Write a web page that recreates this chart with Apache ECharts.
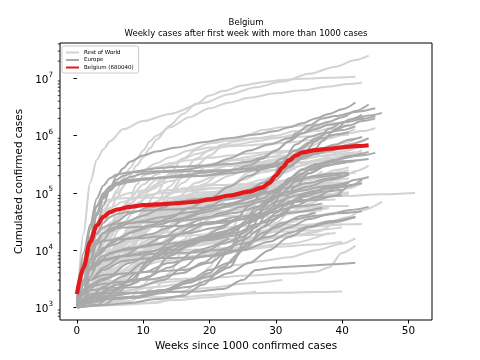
<!DOCTYPE html>
<html><head><meta charset="utf-8">
<script src="https://cdn.jsdelivr.net/npm/echarts@6/dist/echarts.min.js"></script>
<style>html,body{margin:0;padding:0;background:#fff}#c{width:480px;height:360px}</style>
</head><body><div id="c"></div>
<script>
// ---------------- DATA ----------------
const weekTicks = [0, 10, 20, 30, 40, 50];
const yTicks = [1e3, 1e4, 1e5, 1e6, 1e7];
const titleText = 'Belgium';
const subtitleText = 'Weekly cases after first week with more than 1000 cases';
const xLabel = 'Weeks since 1000 confirmed cases';
const yLabel = 'Cumulated confirmed cases';
const legendNames = ['Rest of World', 'Europe', 'Belgium (680040)'];

// Belgium: [week, cumulated cases]
const belgium = [[0,1700],[1,5000],[2,14000],[3,27000],[4,38000],[5,46000],[6,51000],[8,57000],[10,61000],[12,63000],[15,66000],[18,70000],[20,77000],[23,90000],[26,105000],[28,125000],[29,150000],[30,200000],[31,280000],[32,370000],[33,450000],[34,510000],[36,560000],[38,590000],[40,625000],[42,655000],[44,680040]];

// Rest of World countries: [name, [[week, cases], ...]]
const restOfWorld = [
 ['USA', [[0,1000],[1,20000],[2,150000],[3,380000],[4,580000],[5,800000],[7,1300000],[10,1800000],[14,2400000],[19,3700000],[23,5300000],[27,7000000],[31,8800000],[35,12000000],[39,16000000],[42,21000000],[44,25000000]]],
 ['India', [[0,1000],[1,3000],[2,8000],[3,15000],[4,30000],[5,50000],[6,80000],[7,130000],[8,200000],[9,300000],[10,420000],[11,600000],[12,850000],[14,1500000],[16,2400000],[18,3600000],[20,5000000],[22,6000000],[25,7500000],[28,8600000],[31,9400000],[34,9900000],[38,10300000],[42,10700000]]],
 ['Brazil', [[0,1000],[1,3000],[2,8000],[3,20000],[4,40000],[5,70000],[6,110000],[7,180000],[8,270000],[9,390000],[10,550000],[11,800000],[12,1000000],[14,1400000],[17,2100000],[20,3000000],[23,3800000],[26,4600000],[30,5500000],[34,6200000],[38,7200000],[41,8000000],[43,8500000]]],
 ['China', [[0,1300],[1,6000],[2,24000],[3,45000],[4,67000],[5,77000],[6,80000],[8,81500],[12,82500],[20,83500],[30,85000],[40,88000],[46,95000],[51,100000]]],
 ['South Korea', [[0,1700],[1,6000],[2,8000],[3,8600],[5,10000],[8,10700],[12,11200],[16,12400],[20,13700],[24,16000],[26,20000],[30,24000],[34,27000],[38,31000],[41,38000],[43,50000],[46,70000]]],
 ['Iran', [[0,1500],[1,7000],[2,16000],[3,30000],[4,50000],[5,70000],[6,85000],[8,100000],[11,115000],[14,160000],[17,200000],[20,250000],[23,300000],[26,360000],[29,420000],[32,530000],[35,650000],[38,900000],[41,1100000],[43,1200000],[45,1350000]]],
 ['Japan', [[0,1000],[2,1500],[3,2000],[4,3000],[5,7000],[6,11000],[8,14000],[11,16500],[15,18000],[18,22000],[20,35000],[22,55000],[25,70000],[28,80000],[31,90000],[34,110000],[37,140000],[40,190000],[42,240000],[44,300000]]],
 ['Canada', [[0,1300],[1,6000],[2,14000],[3,25000],[4,40000],[5,55000],[7,70000],[10,90000],[13,100000],[17,107000],[21,120000],[25,140000],[28,170000],[31,220000],[34,300000],[37,400000],[40,530000],[43,680000]]],
 ['Australia', [[0,1000],[1,3000],[2,5500],[3,6300],[5,6700],[8,7000],[12,7300],[15,8500],[17,12000],[19,18000],[21,23000],[24,26000],[28,27000],[35,27900],[43,28700]]],
 ['Israel', [[0,1000],[1,4700],[2,9000],[3,12000],[4,15000],[7,16400],[10,17500],[13,20000],[15,30000],[17,55000],[20,90000],[23,130000],[26,230000],[28,300000],[31,320000],[35,340000],[38,380000],[41,460000],[43,560000]]],
 ['Mexico', [[0,1100],[1,2500],[2,5000],[3,9000],[4,16000],[5,27000],[6,42000],[8,80000],[10,140000],[12,210000],[14,300000],[16,390000],[18,480000],[21,600000],[24,700000],[27,800000],[30,900000],[33,1050000],[36,1200000],[39,1400000],[41,1570000]]],
 ['Peru', [[0,1100],[1,4000],[2,11000],[3,25000],[4,45000],[5,70000],[6,100000],[8,170000],[10,250000],[12,330000],[14,420000],[17,550000],[20,730000],[23,820000],[26,880000],[29,920000],[33,960000],[37,1000000],[41,1040000]]],
 ['Chile', [[0,1300],[1,4000],[2,7000],[3,10000],[5,16000],[6,25000],[7,45000],[8,80000],[9,140000],[10,200000],[12,280000],[14,330000],[17,370000],[20,410000],[23,450000],[26,490000],[30,530000],[34,560000],[38,600000],[42,650000]]],
 ['Colombia', [[0,1100],[1,2500],[2,4000],[4,7000],[6,12000],[8,20000],[10,40000],[12,70000],[14,130000],[16,230000],[18,400000],[20,550000],[22,700000],[24,800000],[27,900000],[30,1000000],[33,1200000],[36,1400000],[39,1650000],[41,1850000]]],
 ['Argentina', [[0,1100],[2,2000],[4,3500],[6,6000],[8,10000],[10,20000],[12,50000],[14,100000],[16,190000],[18,300000],[20,450000],[22,650000],[24,850000],[26,1050000],[28,1250000],[31,1400000],[34,1500000],[37,1600000],[41,1750000]]],
 ['South Africa', [[0,1200],[1,1700],[2,2400],[4,4500],[6,10000],[8,23000],[10,50000],[12,100000],[14,220000],[16,400000],[18,560000],[20,620000],[23,650000],[26,680000],[29,720000],[32,760000],[35,830000],[38,950000],[40,1100000],[42,1300000]]],
 ['Saudi Arabia', [[0,1100],[1,2000],[2,4000],[3,7000],[4,13000],[6,30000],[8,65000],[10,100000],[12,140000],[14,200000],[17,270000],[20,300000],[23,320000],[27,335000],[32,345000],[37,357000],[42,365000]]],
 ['Pakistan', [[0,1100],[1,2500],[2,4500],[3,7000],[5,14000],[7,30000],[9,55000],[11,110000],[13,180000],[15,240000],[17,265000],[20,285000],[24,300000],[28,320000],[31,340000],[34,390000],[37,440000],[40,490000],[42,520000]]],
 ['Bangladesh', [[0,1000],[1,3000],[2,6000],[4,16000],[6,35000],[8,65000],[10,110000],[12,170000],[15,230000],[18,280000],[21,330000],[24,370000],[27,400000],[30,430000],[33,470000],[36,500000],[40,525000]]],
 ['Indonesia', [[0,1100],[1,2000],[2,3500],[3,5500],[5,9000],[7,13000],[9,20000],[11,30000],[13,45000],[15,66000],[17,95000],[20,140000],[23,200000],[26,280000],[29,370000],[32,440000],[35,510000],[38,620000],[40,740000],[42,860000]]],
 ['Philippines', [[0,1100],[1,3000],[2,4600],[4,8000],[7,12000],[10,20000],[13,35000],[16,70000],[19,140000],[22,230000],[25,300000],[28,350000],[31,385000],[35,420000],[38,460000],[42,490000]]],
 ['Malaysia', [[0,1300],[1,2800],[2,4100],[4,5500],[7,6500],[11,7800],[16,8700],[22,9300],[26,12000],[28,18000],[30,30000],[32,45000],[35,65000],[38,90000],[41,120000],[43,150000]]],
 ['Singapore', [[0,1000],[1,2500],[2,6600],[3,12000],[4,17000],[6,26000],[8,33000],[10,39000],[12,44000],[14,48000],[17,53000],[20,56000],[25,57500],[30,58000],[41,59000]]],
 ['Egypt', [[0,1100],[2,2500],[4,4500],[6,8000],[8,15000],[10,30000],[12,55000],[14,70000],[17,85000],[20,95000],[24,100000],[28,105000],[32,110000],[35,120000],[38,140000],[41,160000]]],
 ['Morocco', [[0,1100],[2,2500],[4,4000],[6,6500],[9,8000],[12,12000],[15,20000],[18,35000],[21,60000],[24,100000],[27,140000],[30,200000],[33,290000],[36,370000],[39,420000],[41,450000]]],
 ['Algeria', [[0,1300],[2,2200],[4,3500],[6,5000],[9,8000],[12,12000],[15,20000],[17,30000],[19,40000],[22,48000],[25,52000],[28,56000],[31,65000],[34,85000],[37,95000],[41,103000]]],
 ['Iraq', [[0,1100],[2,1700],[4,2500],[6,4000],[8,10000],[10,25000],[12,50000],[14,95000],[16,150000],[18,230000],[20,310000],[23,370000],[26,430000],[29,490000],[32,540000],[36,580000],[40,605000]]],
 ['Qatar', [[0,1100],[1,2500],[2,5000],[3,10000],[5,30000],[7,45000],[9,65000],[11,90000],[13,110000],[15,115000],[20,120000],[25,125000],[30,135000],[35,140000],[41,148000]]],
 ['UAE', [[0,1100],[1,3000],[2,7000],[4,14000],[6,22000],[8,33000],[10,42000],[13,50000],[17,56000],[20,66000],[23,85000],[26,110000],[29,140000],[32,165000],[35,190000],[38,220000],[41,250000]]],
 ['Kuwait', [[0,1000],[2,2500],[4,5500],[6,12000],[8,27000],[10,35000],[13,50000],[16,65000],[20,80000],[24,100000],[28,125000],[32,140000],[36,148000],[40,154000]]],
 ['Ecuador', [[0,1100],[1,3000],[2,4000],[3,7500],[4,23000],[6,29000],[8,33000],[10,40000],[14,55000],[18,80000],[22,105000],[26,130000],[30,160000],[34,185000],[38,205000],[42,225000]]],
 ['Dominican Republic', [[0,1100],[1,2000],[2,4000],[4,7000],[6,12000],[8,17000],[11,25000],[14,40000],[17,60000],[20,85000],[23,100000],[27,115000],[31,130000],[35,145000],[38,165000],[41,180000]]],
 ['Panama', [[0,1200],[1,2500],[2,4000],[4,6500],[6,9500],[8,14000],[11,25000],[14,50000],[17,80000],[20,100000],[23,115000],[27,130000],[31,150000],[34,170000],[37,210000],[39,250000],[41,280000]]],
 ['Bolivia', [[0,1100],[2,2500],[4,6000],[6,12000],[8,25000],[10,45000],[12,70000],[14,95000],[16,120000],[18,130000],[21,137000],[25,142000],[29,147000],[33,160000],[37,185000]]],
 ['Guatemala', [[0,1000],[2,2000],[4,4500],[6,10000],[8,20000],[10,40000],[12,60000],[15,75000],[18,90000],[21,100000],[25,110000],[29,120000],[33,130000],[37,150000]]],
 ['Honduras', [[0,1000],[2,1800],[4,2600],[6,4500],[8,9000],[10,20000],[13,38000],[16,55000],[19,68000],[23,80000],[27,95000],[31,105000],[35,120000],[38,130000]]],
 ['Costa Rica', [[0,1000],[3,1800],[6,4000],[8,10000],[10,20000],[12,35000],[15,60000],[18,85000],[21,105000],[25,130000],[29,150000],[33,170000],[36,180000]]],
 ['Kazakhstan', [[0,1100],[2,2500],[4,4500],[6,8000],[8,12000],[10,18000],[12,40000],[14,80000],[16,90000],[19,103000],[23,107000],[27,112000],[31,130000],[35,170000],[38,200000],[40,220000]]],
 ['Uzbekistan', [[0,1000],[3,2000],[6,3000],[9,5000],[11,10000],[13,20000],[15,35000],[17,45000],[20,55000],[24,62000],[28,68000],[32,72000],[36,75000],[39,77000]]],
 ['Nigeria', [[0,1100],[2,2500],[4,4500],[6,9000],[8,15000],[10,25000],[12,35000],[14,45000],[17,53000],[20,57000],[24,62000],[28,68000],[31,75000],[34,90000],[38,110000]]],
 ['Ghana', [[0,1000],[2,2500],[4,6000],[6,10000],[8,20000],[10,30000],[12,40000],[15,45000],[20,47000],[25,50000],[30,53000],[34,55000],[38,57000]]],
 ['Kenya', [[0,1000],[3,2500],[6,6000],[8,12000],[10,25000],[12,35000],[15,40000],[18,50000],[21,70000],[24,80000],[28,92000],[31,96000],[35,99000]]],
 ['Ethiopia', [[0,1000],[3,2500],[6,6000],[8,10000],[10,20000],[12,40000],[15,60000],[18,80000],[21,95000],[25,105000],[29,115000],[34,130000]]],
 ['Cameroon', [[0,1000],[2,2000],[4,4000],[6,7000],[8,10000],[10,13000],[13,17000],[17,18000],[22,20000],[27,21000],[32,24000],[36,26000],[40,28000]]],
 ['Cuba', [[0,1000],[2,1400],[4,1800],[8,2000],[12,2300],[16,2600],[20,3800],[24,5500],[28,6500],[32,7500],[36,10000],[40,13000],[42,16000]]],
 ['New Zealand', [[0,1000],[2,1300],[4,1450],[8,1500],[16,1520],[20,1650],[24,1750],[30,1800],[36,1850],[40,1900]]],
 ['Thailand', [[0,1000],[1,1600],[2,2200],[3,2700],[5,2900],[8,3000],[14,3100],[20,3300],[26,3600],[32,3900],[36,4200],[38,5000],[40,9000],[42,12000]]],
 ['Sri Lanka', [[0,1000],[4,1600],[8,2000],[12,2700],[16,2900],[20,3300],[22,5000],[24,8000],[26,15000],[29,20000],[32,30000],[36,50000]]],
 ['Vietnam', [[0,1000],[5,1100],[10,1200],[15,1350],[20,1500],[24,1700],[27,1900]]],
 ['Uruguay', [[0,1000],[5,1300],[10,1600],[15,1900],[20,2200],[25,2600],[31,3000]]],
 ['Lebanon', [[0,1000],[4,1100],[8,1500],[10,2500],[12,4500],[14,8000],[16,15000],[18,25000],[20,35000],[23,50000],[26,80000],[29,110000],[32,140000],[35,180000],[37,240000]]],
 ['Jordan', [[0,1000],[4,1200],[8,1300],[12,2300],[14,4000],[16,10000],[18,25000],[20,60000],[22,110000],[25,170000],[28,230000],[32,300000]]],
 ['Nepal', [[0,1000],[2,3000],[4,8000],[6,16000],[8,21000],[10,30000],[12,45000],[15,80000],[18,150000],[21,200000],[25,240000],[29,255000],[33,265000]]],
 ['Oman', [[0,1000],[2,2000],[4,3500],[6,8000],[8,17000],[10,35000],[12,55000],[14,70000],[17,85000],[20,100000],[24,110000],[28,120000],[33,126000],[39,131000]]],
 ['Venezuela', [[0,1000],[3,2500],[6,5000],[8,10000],[10,20000],[12,35000],[15,55000],[18,75000],[21,90000],[25,100000],[29,108000],[34,117000]]],
 ['Afghanistan', [[0,1000],[2,2500],[4,5000],[6,10000],[8,20000],[10,32000],[12,37000],[16,38000],[20,39000],[24,40000],[28,44000],[32,48000],[38,54000]]],
 ['Tunisia', [[0,1000],[6,1100],[12,1200],[15,1500],[18,2500],[20,5000],[22,15000],[25,40000],[28,80000],[31,110000],[34,130000],[38,170000]]],
 ['Paraguay', [[0,1000],[3,1500],[6,2500],[8,4000],[10,9000],[13,20000],[16,40000],[19,60000],[22,75000],[26,90000],[32,115000]]],
 ['Senegal', [[0,1000],[3,2500],[6,4000],[9,6000],[12,8000],[15,10000],[18,12000],[22,14000],[26,15500],[30,16500],[34,19000],[37,22000]]],
 ['Ivory Coast', [[0,1000],[3,1700],[6,3000],[9,5500],[12,10000],[15,14000],[18,16000],[22,18000],[26,20000],[30,21000],[35,22000],[40,25000]]],
 ['Zambia', [[0,1000],[4,2000],[8,4000],[12,8000],[16,13000],[20,15000],[24,16000],[30,17500],[36,18500],[39,20000]]],
 ['Sudan', [[0,1000],[3,4000],[6,7500],[9,9500],[12,11000],[16,12500],[20,13500],[26,14000],[32,18000],[38,25000]]],
 ['DR Congo', [[0,1000],[3,2500],[6,5000],[9,7500],[12,9000],[16,10000],[20,10500],[26,11500],[32,13000],[38,20000]]],
 ['Kyrgyzstan', [[0,1000],[3,1500],[6,2000],[8,3700],[10,8000],[12,20000],[14,35000],[17,42000],[22,47000],[27,55000],[32,72000],[37,80000]]],
 ['El Salvador', [[0,1000],[2,1600],[4,2600],[6,4500],[8,8000],[10,14000],[13,20000],[17,26000],[21,30000],[25,34000],[30,40000],[35,48000],[37,50000]]],
 ['Bahrain', [[0,1000],[2,1700],[4,2900],[6,5000],[8,9000],[10,14000],[12,19000],[15,30000],[18,38000],[21,45000],[25,58000],[29,75000],[33,83000],[37,90000],[41,96000]]],
 ['Guinea', [[0,1000],[3,2000],[6,4000],[9,5000],[13,6500],[18,8000],[24,10000],[30,11500],[36,12500],[40,14000]]]
];

// European countries: [name, [[week, cases], ...]]
const europe = [
 ['Italy', [[0,1100],[1,4600],[2,15000],[3,41000],[4,80000],[5,110000],[6,140000],[7,170000],[8,190000],[10,215000],[13,232000],[17,240000],[22,248000],[26,262000],[29,290000],[32,340000],[34,450000],[36,800000],[38,1300000],[40,1700000],[42,2000000],[44,2250000],[46,2500000]]],
 ['Spain', [[0,1200],[1,6000],[2,28000],[3,80000],[4,135000],[5,180000],[6,210000],[8,230000],[12,240000],[16,250000],[20,300000],[23,400000],[26,550000],[29,700000],[32,900000],[34,1100000],[36,1300000],[38,1550000],[41,1750000],[43,1950000],[45,2200000]]],
 ['Germany', [[0,1100],[1,5000],[2,23000],[3,60000],[4,100000],[5,130000],[6,150000],[8,165000],[11,180000],[15,190000],[19,200000],[23,220000],[27,250000],[30,290000],[32,400000],[34,600000],[36,900000],[38,1150000],[41,1500000],[43,1800000],[45,2000000]]],
 ['France', [[0,1100],[1,4500],[2,15000],[3,45000],[4,90000],[5,125000],[6,150000],[8,170000],[11,180000],[15,190000],[19,200000],[23,240000],[26,300000],[28,400000],[30,550000],[32,800000],[33,1100000],[35,1500000],[37,2000000],[39,2200000],[42,2600000],[45,3000000]]],
 ['United Kingdom', [[0,1100],[1,5000],[2,17000],[3,40000],[4,85000],[5,130000],[6,170000],[7,200000],[9,240000],[12,270000],[15,285000],[19,300000],[23,320000],[26,350000],[28,420000],[30,550000],[32,800000],[34,1100000],[36,1500000],[38,1750000],[40,2100000],[42,2700000],[44,3500000]]],
 ['Russia', [[0,1300],[1,4000],[2,10000],[3,28000],[4,60000],[5,120000],[6,200000],[7,270000],[8,350000],[10,450000],[12,530000],[15,620000],[19,770000],[23,900000],[27,1050000],[30,1200000],[32,1400000],[34,1650000],[36,2000000],[38,2400000],[40,2900000],[42,3800000]]],
 ['Turkey', [[0,1200],[1,9000],[2,27000],[3,57000],[4,95000],[5,120000],[6,138000],[8,155000],[10,170000],[13,185000],[16,205000],[19,225000],[22,245000],[25,265000],[28,300000],[31,340000],[33,390000],[35,470000],[36,600000],[37,800000],[39,1300000],[41,1900000],[43,2300000]]],
 ['Netherlands', [[0,1100],[1,4000],[2,10000],[3,19000],[4,30000],[5,38000],[6,43000],[8,47000],[11,50000],[15,52000],[19,55000],[23,65000],[26,80000],[28,110000],[30,170000],[32,280000],[34,400000],[36,480000],[38,540000],[41,700000],[44,900000]]],
 ['Sweden', [[0,1000],[1,2000],[2,4500],[3,9000],[4,15000],[5,21000],[7,30000],[10,40000],[13,55000],[15,70000],[18,78000],[22,85000],[26,92000],[29,105000],[31,130000],[33,180000],[35,250000],[38,340000],[41,440000],[44,520000]]],
 ['Switzerland', [[0,1100],[1,4000],[2,12000],[3,20000],[4,25000],[5,28000],[7,30000],[11,31000],[16,33000],[20,38000],[24,45000],[28,60000],[30,100000],[32,180000],[34,260000],[36,320000],[39,380000],[42,440000],[45,500000]]],
 ['Portugal', [[0,1000],[1,4000],[2,9000],[3,15000],[4,20000],[6,26000],[9,31000],[13,38000],[17,46000],[21,54000],[25,65000],[28,80000],[30,110000],[32,160000],[34,220000],[36,290000],[38,350000],[40,400000],[43,500000]]],
 ['Austria', [[0,1000],[1,5000],[2,10000],[3,13000],[4,14500],[6,15400],[9,16300],[13,17500],[17,20000],[21,25000],[25,35000],[28,55000],[30,90000],[32,170000],[34,250000],[36,310000],[39,350000],[44,390000]]],
 ['Poland', [[0,1000],[1,2500],[2,5000],[3,8000],[4,11000],[6,16000],[9,22000],[12,28000],[16,36000],[20,48000],[24,68000],[27,95000],[29,150000],[31,350000],[33,700000],[35,950000],[37,1100000],[40,1250000],[42,1450000]]],
 ['Ukraine', [[0,1100],[1,2500],[2,5000],[3,8000],[5,13000],[8,20000],[11,27000],[14,36000],[17,55000],[20,80000],[23,130000],[26,200000],[29,300000],[31,400000],[33,550000],[35,750000],[37,900000],[39,1050000],[41,1150000]]],
 ['Romania', [[0,1000],[1,2500],[2,5000],[3,8000],[5,12000],[8,16000],[11,19000],[14,25000],[17,40000],[20,60000],[23,85000],[26,115000],[28,150000],[30,200000],[32,300000],[34,400000],[36,500000],[39,600000],[42,660000]]],
 ['Czechia', [[0,1000],[1,2500],[2,4500],[4,7000],[7,8000],[11,9500],[15,12000],[19,17000],[22,25000],[24,35000],[26,60000],[28,100000],[30,200000],[32,350000],[34,480000],[36,550000],[39,700000],[41,850000],[43,950000]]],
 ['Ireland', [[0,1100],[1,3000],[2,6000],[3,13000],[4,20000],[5,23000],[7,25000],[11,26000],[15,26500],[19,28000],[22,30000],[25,35000],[28,45000],[30,60000],[33,70000],[36,75000],[39,90000],[41,130000],[43,170000]]],
 ['Denmark', [[0,1100],[1,2000],[2,3400],[3,5400],[5,9000],[8,11000],[12,12500],[16,13500],[20,16000],[24,20000],[27,28000],[30,40000],[33,60000],[36,85000],[39,120000],[42,170000],[44,190000]]],
 ['Norway', [[0,1100],[1,3000],[2,5000],[4,6600],[7,7800],[11,8600],[16,9000],[21,10000],[25,13000],[29,17000],[32,25000],[35,35000],[38,42000],[41,50000],[44,57000]]],
 ['Finland', [[0,1000],[1,2000],[2,3000],[4,4500],[7,6500],[11,7200],[16,7400],[21,8000],[25,10000],[29,14000],[32,20000],[35,26000],[38,32000],[42,38000]]],
 ['Greece', [[0,1000],[1,1700],[2,2300],[4,2600],[7,2800],[11,3100],[16,4000],[19,6000],[22,10000],[25,15000],[28,25000],[31,40000],[33,70000],[35,100000],[38,125000],[43,148000]]],
 ['Hungary', [[0,1000],[1,1800],[2,2500],[4,3200],[7,3900],[11,4200],[16,4500],[20,6000],[23,10000],[25,20000],[27,40000],[29,70000],[31,100000],[33,160000],[35,220000],[38,310000],[41,350000]]],
 ['Serbia', [[0,1100],[1,2500],[2,5000],[4,8000],[7,10000],[10,11500],[13,13500],[15,18000],[17,25000],[19,30000],[22,32000],[26,36000],[29,45000],[31,70000],[33,130000],[35,220000],[37,290000],[40,340000],[42,360000]]],
 ['Croatia', [[0,1000],[1,1700],[2,2000],[5,2200],[9,2250],[13,3000],[16,5000],[19,9000],[22,13000],[25,17000],[27,25000],[29,50000],[31,100000],[33,160000],[36,200000],[38,215000],[41,225000]]],
 ['Bulgaria', [[0,1000],[2,1500],[4,2300],[7,3500],[10,6000],[13,10000],[16,14000],[19,17000],[22,21000],[25,28000],[27,40000],[29,80000],[31,140000],[33,170000],[36,190000],[40,210000]]],
 ['Slovakia', [[0,1000],[2,1300],[5,1450],[9,1550],[13,2000],[17,2700],[20,4000],[23,10000],[25,30000],[27,55000],[29,80000],[32,105000],[35,130000],[38,170000],[41,210000]]],
 ['Slovenia', [[0,1000],[2,1200],[5,1400],[9,1470],[13,1800],[17,2800],[20,3500],[23,5000],[26,20000],[28,50000],[30,70000],[33,90000],[36,110000],[39,125000],[42,140000]]],
 ['Belarus', [[0,1000],[1,2900],[2,7000],[3,14000],[4,20000],[6,32000],[8,44000],[11,56000],[14,64000],[18,70000],[22,76000],[26,85000],[29,100000],[32,125000],[35,150000],[38,180000],[41,210000]]],
 ['Moldova', [[0,1000],[1,2000],[2,3000],[4,5000],[7,8000],[10,12000],[13,17000],[16,26000],[19,35000],[22,45000],[25,58000],[28,72000],[31,90000],[34,110000],[37,130000],[41,150000]]],
 ['Bosnia and Herzegovina', [[0,1100],[2,1500],[5,2000],[8,2500],[11,3500],[14,8000],[17,12000],[20,17000],[23,22000],[26,30000],[28,40000],[31,60000],[34,85000],[37,105000],[40,115000]]],
 ['North Macedonia', [[0,1100],[2,1400],[5,1800],[8,3000],[11,6500],[14,10000],[17,13000],[20,16000],[23,20000],[26,30000],[28,40000],[31,60000],[34,75000],[37,85000],[40,90000]]],
 ['Albania', [[0,1000],[3,1100],[6,2000],[9,4000],[12,7000],[15,10000],[18,14000],[21,18000],[24,25000],[27,35000],[30,48000],[33,58000],[37,65000]]],
 ['Lithuania', [[0,1000],[2,1400],[5,1600],[9,1800],[13,2000],[17,3000],[20,4500],[23,6000],[26,13000],[28,25000],[30,45000],[32,70000],[35,100000],[38,130000],[41,150000]]],
 ['Latvia', [[0,1000],[4,1100],[8,1200],[12,1400],[16,1600],[19,2500],[22,5000],[25,10000],[28,20000],[31,30000],[34,40000],[36,45000]]],
 ['Estonia', [[0,1000],[2,1300],[5,1600],[9,1800],[13,2000],[17,2300],[20,3000],[23,4000],[26,6000],[29,10000],[32,17000],[35,25000],[38,30000],[42,38000]]],
 ['Luxembourg', [[0,1100],[1,2000],[2,3000],[4,3700],[7,3900],[10,4100],[14,6000],[17,7000],[20,8000],[24,10000],[27,15000],[30,25000],[33,35000],[36,40000],[39,44000],[43,48000]]],
 ['Iceland', [[0,1000],[1,1400],[2,1700],[4,1800],[10,1810],[18,1900],[22,2100],[25,3000],[27,4500],[30,5000],[34,5300],[38,5600],[42,6000]]],
 ['Malta', [[0,1000],[3,1700],[6,2500],[10,3200],[14,5000],[18,10000],[23,16000]]],
 ['Montenegro', [[0,1000],[4,3000],[8,6000],[12,10000],[16,20000],[20,30000],[24,38000],[28,45000]]],
 ['Kosovo', [[0,1000],[4,1100],[8,2500],[11,7000],[15,12000],[20,15000],[24,18000],[28,30000],[32,45000],[37,55000]]]
];

// ---------------- CHART ----------------
const X_MIN = -2.55, X_MAX = 53.55, Y_MIN = 603, Y_MAX = 4.15e7;
const minorTicks = [];
for (let e = 2; e <= 7; e++) for (let m = 2; m <= 9; m++) {
  const v = m * Math.pow(10, e);
  if (v > Y_MIN && v < Y_MAX) minorTicks.push(v);
}

const FONT = 'DejaVu Sans';
const common = {type: 'line', symbol: 'none', showSymbol: false, smooth: 0.3, smoothMonotone: 'x', silent: true, animation: false, clip: true};

const series = [];
restOfWorld.forEach(([c, pts]) => series.push(Object.assign({}, common, {
  name: legendNames[0], data: pts, z: 2,
  lineStyle: {color: '#d3d3d3', width: 2}, itemStyle: {color: '#d3d3d3'}
})));
europe.forEach(([c, pts]) => series.push(Object.assign({}, common, {
  name: legendNames[1], data: pts, z: 3,
  lineStyle: {color: '#a9a9a9', width: 2}, itemStyle: {color: '#a9a9a9'}
})));
series.push(Object.assign({}, common, {
  name: legendNames[2], data: belgium, z: 5,
  lineStyle: {color: '#e31a1c', width: 4.2}, itemStyle: {color: '#e31a1c'}
}));
// minor ticks of the log axis (matplotlib style 2..9 x 10^n)
series.push({
  type: 'custom', silent: true, animation: false, clip: false, z: 10,
  data: minorTicks.map(v => [X_MIN, v]),
  renderItem: (params, api) => {
    const p = api.coord([X_MIN, api.value(1)]);
    return {type: 'line', shape: {x1: p[0] - 2.2, y1: p[1], x2: p[0], y2: p[1]},
            style: {stroke: '#000', lineWidth: 0.8}};
  }
});

const chart = echarts.init(document.getElementById('c'), null, {renderer: 'canvas'});
chart.setOption({
  animation: false,
  backgroundColor: '#fff',
  textStyle: {fontFamily: FONT},
  graphic: [
    {type: 'text', x: 246, y: 18.5, silent: true,
     style: {text: titleText, align: 'center', verticalAlign: 'top', fontSize: 8.5, fill: '#000', fontFamily: FONT}},
    {type: 'text', x: 246, y: 29, silent: true,
     style: {text: subtitleText, align: 'center', verticalAlign: 'top', fontSize: 8.5, fill: '#000', fontFamily: FONT}}
  ],
  legend: {
    data: legendNames.map(n => ({name: n, itemStyle: {opacity: 0}})),
    orient: 'vertical', left: 62, top: 46,
    itemWidth: 13, itemHeight: 5, itemGap: 1.5,
    padding: [3.5, 5, 2.5, 3],
    borderColor: '#cccccc', borderWidth: 1, borderRadius: 2,
    backgroundColor: 'rgba(255,255,255,0.8)',
    textStyle: {fontSize: 5.5, color: '#000', fontFamily: FONT},
    selectedMode: false
  },
  grid: {left: 60, right: 48, top: 43, bottom: 40, show: true, borderColor: '#000', borderWidth: 1, backgroundColor: 'transparent'},
  xAxis: {
    type: 'value', min: X_MIN, max: X_MAX,
    name: xLabel, nameLocation: 'middle', nameGap: 20,
    nameTextStyle: {fontSize: 10.4, color: '#000', fontFamily: FONT},
    axisLine: {show: false},
    splitLine: {show: false},
    axisTick: {show: true, length: 3.5, customValues: weekTicks, lineStyle: {color: '#000'}},
    axisLabel: {customValues: weekTicks, fontSize: 10.4, color: '#000', margin: 6, fontFamily: FONT}
  },
  yAxis: {
    type: 'log', logBase: 10, min: Y_MIN, max: Y_MAX,
    name: yLabel, nameLocation: 'middle', nameGap: 31, nameRotate: 90,
    nameTextStyle: {fontSize: 10.4, color: '#000', fontFamily: FONT},
    axisLine: {show: false},
    splitLine: {show: false},
    axisTick: {show: true, length: 3.5, customValues: yTicks, lineStyle: {color: '#000'}},
    axisLabel: {
      customValues: yTicks, margin: 7,
      formatter: v => '{b|10}{s|' + Math.round(Math.log10(v)) + '}',
      rich: {
        b: {fontSize: 10.4, color: '#000', fontFamily: FONT, verticalAlign: 'bottom', lineHeight: 14},
        s: {fontSize: 7.2, color: '#000', fontFamily: FONT, verticalAlign: 'top', lineHeight: 14}
      }
    }
  },
  series: series
});
</script></body></html>
